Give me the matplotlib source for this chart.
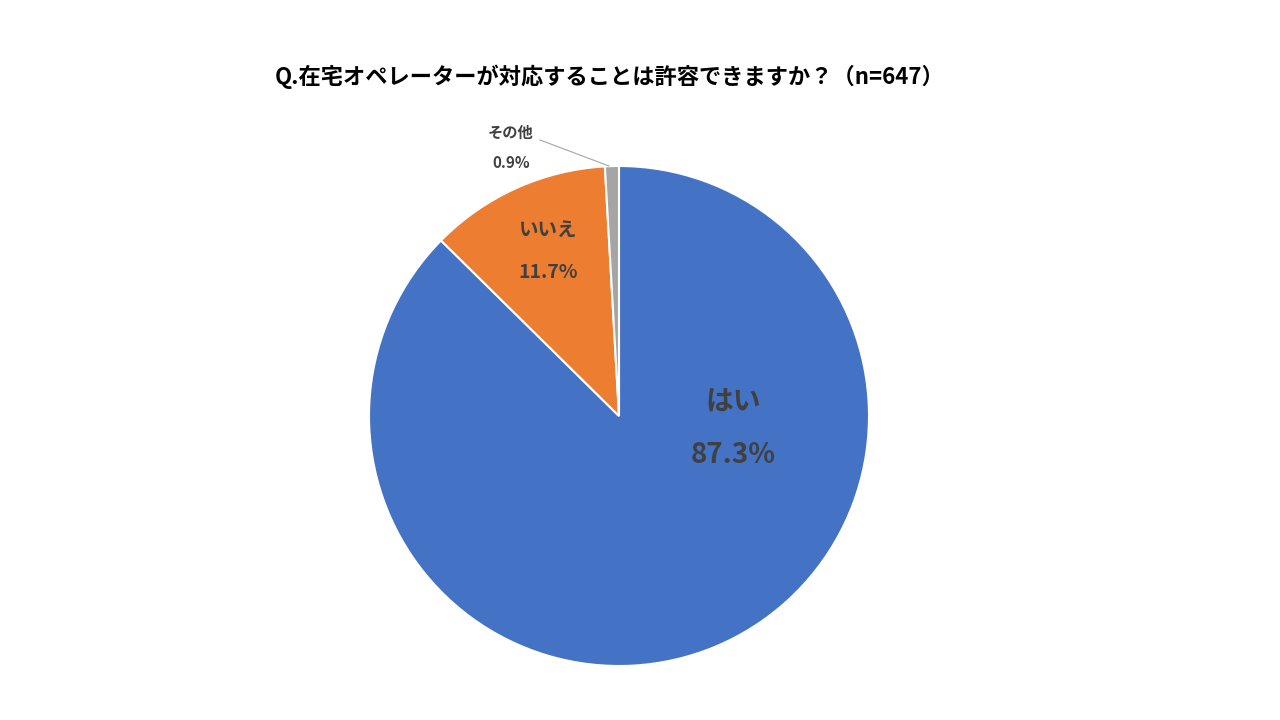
import matplotlib
matplotlib.use("Agg")
import matplotlib.pyplot as plt

labels = ["はい", "いいえ", "その他"]
values = [87.3, 11.7, 0.9]
colors = ["#4472C4", "#ED7D31", "#A5A5A5"]
title = "Q.在宅オペレーターが対応することは許容できますか？（n=647）"

plt.rcParams['font.family'] = ['Noto Sans CJK JP', 'DejaVu Sans']
fig = plt.figure(figsize=(12.8, 7.2), dpi=100)
ax = fig.add_axes([369/1280, 54/720, 500/1280, 500/720])
ax.pie(values, colors=colors, startangle=90, counterclock=False,
       wedgeprops=dict(edgecolor="white", linewidth=1.5), radius=1)
ax.set_xlim(-1, 1); ax.set_ylim(-1, 1); ax.set_aspect('equal')
ax.axis('off')

tc = "#404040"
ax.text(0.456, 0.052, labels[0], ha='center', va='center', fontsize=20, fontweight='bold', color=tc)
ax.text(0.456, -0.156, f"{values[0]}%", ha='center', va='center', fontsize=20, fontweight='bold', color=tc)
ax.text(-0.284, 0.744, labels[1], ha='center', va='center', fontsize=14, fontweight='bold', color=tc)
ax.text(-0.284, 0.576, f"{values[1]}%", ha='center', va='center', fontsize=14, fontweight='bold', color=tc)
ax.text(-0.432, 1.132, labels[2], ha='center', va='center', fontsize=11, fontweight='bold', color=tc, clip_on=False)
ax.text(-0.432, 1.012, f"{values[2]}%", ha='center', va='center', fontsize=11, fontweight='bold', color=tc, clip_on=False)
ax.plot([-0.316, -0.04], [1.104, 1.0], color="#A5A5A5", lw=0.8, clip_on=False)

fig.text(610/1280, 1 - 77/720, title, ha='center', va='center', fontsize=16, fontweight='bold', color='black')
fig.savefig("out.png", dpi=100)
